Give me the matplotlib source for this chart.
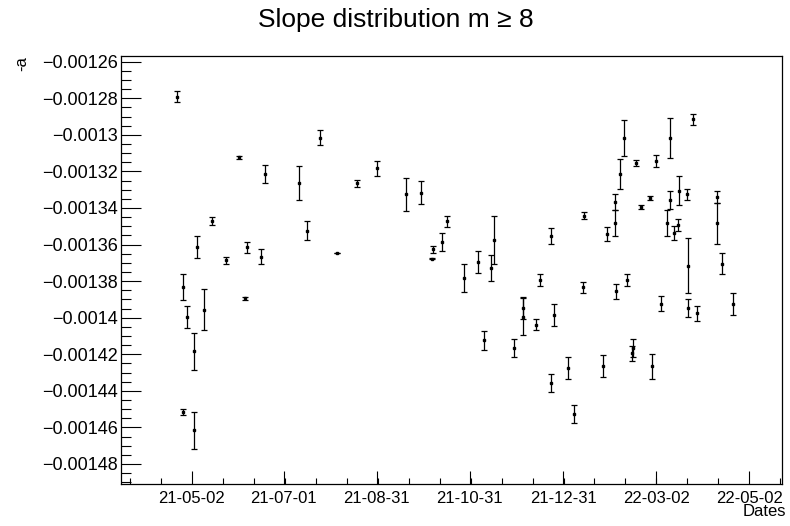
import matplotlib
matplotlib.use("Agg")
import matplotlib.pyplot as plt
import matplotlib.dates as mdates
from matplotlib.ticker import FixedLocator, MultipleLocator, FuncFormatter
import numpy as np

plt.rcParams["font.family"] = ["Liberation Sans", "DejaVu Sans"]

# data
dates = [
    "2021-04-22", "2021-04-26", "2021-04-26", "2021-04-29", "2021-05-03",
    "2021-05-03", "2021-05-05", "2021-05-10", "2021-05-15", "2021-05-24",
    "2021-06-02", "2021-06-06", "2021-06-07", "2021-06-16", "2021-06-19",
    "2021-07-11", "2021-07-16", "2021-07-25", "2021-08-05", "2021-08-18",
    "2021-08-31", "2021-09-19", "2021-09-29", "2021-10-06", "2021-10-07",
    "2021-10-13", "2021-10-16", "2021-10-27", "2021-11-05", "2021-11-09",
    "2021-11-14", "2021-11-16", "2021-11-29", "2021-12-05", "2021-12-05",
    "2021-12-13", "2021-12-16", "2021-12-23", "2021-12-23", "2021-12-25",
    "2022-01-03", "2022-01-07", "2022-01-13", "2022-01-14", "2022-01-26",
    "2022-01-29", "2022-02-03", "2022-02-03", "2022-02-04", "2022-02-06",
    "2022-02-09", "2022-02-11", "2022-02-14", "2022-02-15", "2022-02-17",
    "2022-02-20", "2022-02-26", "2022-02-27", "2022-03-02", "2022-03-05",
    "2022-03-09", "2022-03-11", "2022-03-11", "2022-03-14", "2022-03-16",
    "2022-03-17", "2022-03-22", "2022-03-23", "2022-03-23", "2022-03-26",
    "2022-03-29", "2022-04-11", "2022-04-11", "2022-04-14", "2022-04-21",
]
# slope values in units of 1e-5
slope = [
    -127.93, -138.34, -145.16, -139.98, -141.84,
    -146.16, -136.15, -139.56, -134.73, -136.87,
    -131.23, -138.95, -136.15, -136.66, -132.14,
    -132.65, -135.24, -130.16, -136.46, -132.65,
    -131.83, -133.25, -133.16, -136.77, -136.26,
    -135.86, -134.73, -137.85, -136.97, -141.24,
    -137.28, -135.75, -141.64, -139.47, -139.95,
    -140.38, -137.94, -143.57, -135.53, -139.87,
    -142.75, -145.25, -138.34, -134.42, -142.66,
    -135.44, -133.67, -134.84, -138.56, -132.14,
    -130.17, -137.94, -141.95, -141.64, -131.54,
    -133.96, -133.47, -142.66, -131.43, -139.25,
    -134.84, -130.17, -133.56, -135.35, -134.93,
    -133.05, -133.25, -137.17, -139.47, -129.15,
    -139.76, -133.38, -134.84, -137.06, -139.25,
]
slope_err = [
    0.30, 0.71, 0.18, 0.61, 1.02,
    1.01, 0.61, 1.12, 0.21, 0.21,
    0.09, 0.10, 0.30, 0.40, 0.51,
    0.92, 0.50, 0.40, 0.02, 0.20,
    0.40, 0.89, 0.62, 0.02, 0.20,
    0.51, 0.31, 0.77, 0.59, 0.51,
    0.70, 1.33, 0.50, 0.62, 1.00,
    0.31, 0.32, 0.51, 0.42, 0.61,
    0.59, 0.50, 0.30, 0.20, 0.61,
    0.39, 0.42, 0.72, 0.41, 0.81,
    0.98, 0.31, 0.40, 0.50, 0.18,
    0.12, 0.10, 0.70, 0.31, 0.41,
    0.71, 1.09, 0.51, 0.39, 0.31,
    0.80, 0.30, 1.50, 0.51, 0.31,
    0.41, 0.33, 1.11, 0.57, 0.61,
]
tick_dates = ["2021-05-02", "2021-07-01", "2021-08-31", "2021-10-31",
              "2021-12-31", "2022-03-02", "2022-05-02"]
tick_labels = ["21-05-02", "21-07-01", "21-08-31", "21-10-31",
               "21-12-31", "22-03-02", "22-05-02"]

x = np.array(dates, dtype="datetime64[D]")
y = np.array(slope) * 1e-5
yerr = np.array(slope_err) * 1e-5

fig = plt.figure(figsize=(7.9, 5.26), dpi=100)
ax = fig.add_axes([121 / 790, 1 - 484 / 526, 661 / 790, 428 / 526])

ax.errorbar(x, y, yerr=yerr, fmt="s", color="black", ms=1.8, lw=0.9,
            capsize=2.0, capthick=0.9, elinewidth=0.9)

ax.set_xlim(np.datetime64("2021-03-16T12:00"), np.datetime64("2022-05-23T10:00"))
ax.set_ylim(-0.00149096, -0.0012569)

# x ticks, ROOT style
major = mdates.date2num(np.array(tick_dates, dtype="datetime64[D]"))
step = (major[-1] - major[0]) / (len(major) - 1)
minor = np.arange(major[0] - step, major[-1] + step * 1.01, step / 3)
ax.xaxis.set_major_locator(FixedLocator(major))
ax.xaxis.set_minor_locator(FixedLocator(minor))
ax.set_xticklabels(tick_labels)

# y ticks
ax.yaxis.set_major_locator(MultipleLocator(2e-5))
ax.yaxis.set_minor_locator(MultipleLocator(5e-6))


def yfmt(v, pos):
    s = f"{abs(v):.5f}".rstrip("0")
    return ("\u2212" if v < 0 else "") + s


ax.yaxis.set_major_formatter(FuncFormatter(yfmt))

ax.tick_params(axis="y", which="major", direction="in", length=14.4, width=0.8,
               labelsize=13, pad=2, right=False)
ax.tick_params(axis="y", which="minor", direction="in", length=7.2, width=0.8, right=False)
ax.tick_params(axis="x", which="major", direction="in", length=9.2, width=0.8,
               labelsize=12, pad=5, top=False)
ax.tick_params(axis="x", which="minor", direction="in", length=4.6, width=0.8, top=False)
for sp in ax.spines.values():
    sp.set_linewidth(0.9)

fig.text(396 / 790, 1 - 20 / 526, "Slope distribution m \u2265 8",
         ha="center", va="center", fontsize=19)
fig.text(22 / 790, 1 - 56 / 526, "-a", rotation=90, ha="center", va="top", fontsize=12)
fig.text(786 / 790, 1 - 512 / 526, "Dates", ha="right", va="center", fontsize=12)

fig.savefig("out.png", dpi=100)
